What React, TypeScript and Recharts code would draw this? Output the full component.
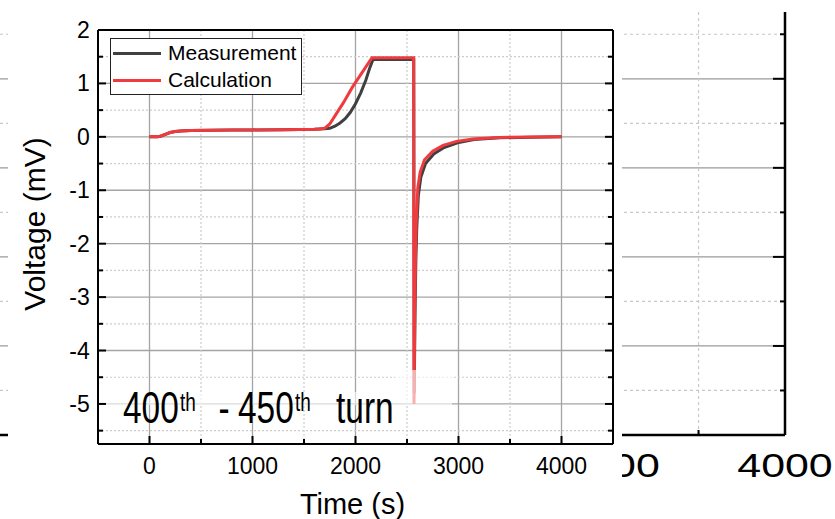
import React from 'react';
import { LineChart, Line, XAxis, YAxis, CartesianGrid, Legend, Label } from 'recharts';

// ---------- data ----------
const measT = [0, 80, 120, 160, 200, 250, 300, 400, 600, 800, 1000, 1300, 1600, 1700, 1750, 1800, 1850, 1900, 1950, 2000, 2050, 2100, 2140, 2170, 2400, 2566, 2570, 2578, 2586, 2595, 2610, 2635, 2680, 2760, 2860, 2990, 3150, 3400, 3700, 4000];
const measV = [0, 0, 0.02, 0.05, 0.08, 0.1, 0.11, 0.12, 0.125, 0.13, 0.13, 0.135, 0.14, 0.15, 0.16, 0.2, 0.26, 0.34, 0.46, 0.62, 0.82, 1.06, 1.3, 1.45, 1.45, 1.45, -4.8, -3.3, -2.3, -1.7, -1.1, -0.75, -0.5, -0.32, -0.2, -0.11, -0.05, -0.018, -0.006, 0];

const calcT = [0, 80, 120, 160, 200, 250, 300, 400, 600, 800, 1000, 1300, 1600, 1650, 1700, 1750, 1810, 1880, 1970, 2070, 2160, 2400, 2564, 2568, 2575, 2582, 2590, 2605, 2628, 2670, 2750, 2850, 2980, 3140, 3400, 3700, 4000];
const calcV = [0, 0, 0.02, 0.05, 0.08, 0.1, 0.11, 0.12, 0.125, 0.13, 0.13, 0.135, 0.14, 0.145, 0.16, 0.24, 0.42, 0.63, 0.93, 1.22, 1.48, 1.48, 1.48, -5.0, -3.4, -2.3, -1.6, -0.95, -0.66, -0.43, -0.27, -0.16, -0.085, -0.04, -0.012, -0.004, 0];

const seriesNames = ['Measurement', 'Calculation'];
const seriesColors = ['#404040', '#f03a3e'];

const xMajor = [0, 1000, 2000, 3000, 4000];
const xMinor = [-500, 500, 1500, 2500, 3500, 4500];
const yMajor = [-5, -4, -3, -2, -1, 0, 1, 2];
const yMinor = [-5.5, -4.5, -3.5, -2.5, -1.5, -0.5, 0.5, 1.5];

// neighbouring (cropped) panel
const bgXMajor = [3000, 4000];
const bgXMinor = [3500];
const bgYMajor = [1, 2, 3, 4];
const bgYMinor = [0.5, 1.5, 2.5, 3.5, 4.5];

const measData = measT.map((t, i) => ({ t, v: measV[i] }));
const calcData = calcT.map((t, i) => ({ t, v: calcV[i] }));

const FONT = '"Liberation Sans", Arial, Helvetica, sans-serif';
const xAll = [...xMajor, ...xMinor].sort((a, b) => a - b);
const yAll = [...yMajor, ...yMinor].sort((a, b) => a - b);
const bgXAll = [...bgXMajor, ...bgXMinor].sort((a, b) => a - b);
const bgYAll = [...bgYMajor, ...bgYMinor].sort((a, b) => a - b);

type Orient = 'bottom' | 'top' | 'left' | 'right';

function makeTick(orient: Orient, majors: number[], showLabel: boolean, majLen = 8, minLen = 5, big = false) {
  return (props: any) => {
    const { x, y, payload } = props;
    const v = payload.value;
    const isMajor = majors.some((m) => Math.abs(m - v) < 1e-9);
    const len = isMajor ? majLen : minLen;
    let x2 = x, y2 = y;
    if (orient === 'bottom') y2 = y - len;
    if (orient === 'top') y2 = y + len;
    if (orient === 'left') x2 = x + len;
    if (orient === 'right') x2 = x - len;
    let label: any = null;
    if (showLabel && isMajor) {
      if (orient === 'bottom') {
        label = big ? (
          <text transform={`translate(${x},${y + 42}) scale(1.3,1)`} textAnchor="middle" fontFamily={FONT} fontSize={33} fill="#000">
            {String(v)}
          </text>
        ) : (
          <text x={x} y={y + 29.5} textAnchor="middle" fontFamily={FONT} fontSize={23} fill="#000">
            {String(v)}
          </text>
        );
      } else if (orient === 'left') {
        label = (
          <text x={x - 8.3} y={y + 8} textAnchor="end" fontFamily={FONT} fontSize={23} fill="#000">
            {String(v)}
          </text>
        );
      }
    }
    return (
      <g>
        <line x1={x} y1={y} x2={x2} y2={y2} stroke="#000" strokeWidth={2} />
        {label}
      </g>
    );
  };
}

const renderLegend = (props: any) => {
  const payload = (props && props.payload) || [];
  const items = seriesNames.map((n, i) => {
    const p = payload.find((e: any) => e.value === n);
    return { label: n, color: p && p.color ? p.color : seriesColors[i] };
  });
  return (
    <div
      style={{
        width: 192,
        height: 57,
        boxSizing: 'border-box',
        border: '1.5px solid #222',
        background: '#fff',
        position: 'relative',
        fontFamily: FONT,
        fontSize: 21,
        color: '#000',
      }}
    >
      {items.map((it, i) => (
        <div
          key={it.label}
          style={{ position: 'absolute', left: 2, top: i === 0 ? 3 : 30, height: 22, display: 'flex', alignItems: 'center', whiteSpace: 'nowrap' }}
        >
          <span style={{ display: 'inline-block', width: 48, height: 3, background: it.color }} />
          <span style={{ marginLeft: 7, lineHeight: '22px' }}>{it.label}</span>
        </div>
      ))}
    </div>
  );
};

function BackgroundPanel() {
  return (
    <LineChart width={835} height={519} margin={{ top: 12, right: 0, bottom: 0, left: 0 }}>
      <CartesianGrid horizontalValues={bgYMajor} vertical={false} stroke="#9a9a9a" strokeWidth={1.3} />
      <CartesianGrid horizontalValues={bgYMinor} verticalValues={bgXMinor} stroke="#c8c8c8" strokeDasharray="3 3" strokeWidth={1.2} />
      <XAxis
        type="number"
        dataKey="t"
        domain={[-540, 4000]}
        allowDataOverflow
        ticks={bgXAll}
        interval={0}
        height={84}
        tickSize={0}
        tickMargin={0}
        tickLine={false}
        axisLine={{ stroke: '#000', strokeWidth: 2.5 }}
        tick={makeTick('bottom', bgXMajor, true, 12, 5, true)}
      />
      <YAxis
        orientation="right"
        type="number"
        domain={[0, 4.75]}
        allowDataOverflow
        ticks={bgYAll}
        interval={0}
        width={50}
        tickSize={0}
        tickMargin={0}
        tickLine={false}
        axisLine={{ stroke: '#000', strokeWidth: 2.5 }}
        tick={makeTick('right', bgYMajor, false, 12, 5)}
      />
    </LineChart>
  );
}

function MainPanel() {
  return (
    <LineChart width={614} height={519} margin={{ top: 0, right: 0, bottom: 0, left: 0 }}>
      <CartesianGrid horizontalValues={yMajor.filter((v) => v < 2)} verticalValues={xMajor} stroke="#a4a4a4" strokeWidth={1.3} />
      <CartesianGrid horizontalValues={yMinor} verticalValues={xMinor.filter((v) => v > -500 && v < 4500)} stroke="#cccccc" strokeDasharray="2 2" strokeWidth={1.2} />
      <XAxis
        type="number"
        dataKey="t"
        domain={[-500, 4500]}
        allowDataOverflow
        ticks={xAll}
        interval={0}
        height={75}
        tickSize={0}
        tickMargin={0}
        tickLine={false}
        axisLine={{ stroke: '#000', strokeWidth: 2 }}
        tick={makeTick('bottom', xMajor, true)}
      >
        <Label
          content={(p: any) => {
            const vb = p.viewBox || { x: 90, y: 444, width: 515, height: 75 };
            return (
              <text x={vb.x + vb.width / 2 - 3} y={vb.y + vb.height - 5} textAnchor="middle" fontFamily={FONT} fontSize={29} fill="#000">
                Time (s)
              </text>
            );
          }}
        />
      </XAxis>
      <XAxis
        xAxisId="t"
        orientation="top"
        type="number"
        domain={[-500, 4500]}
        allowDataOverflow
        ticks={xAll}
        interval={0}
        height={30}
        tickSize={0}
        tickMargin={0}
        tickLine={false}
        axisLine={{ stroke: '#000', strokeWidth: 2 }}
        tick={makeTick('top', xMajor, false)}
      />
      <YAxis
        type="number"
        domain={[-5.75, 2]}
        allowDataOverflow
        ticks={yAll}
        interval={0}
        width={90}
        tickSize={0}
        tickMargin={0}
        tickLine={false}
        axisLine={{ stroke: '#000', strokeWidth: 2 }}
        tick={makeTick('left', yMajor, true)}
      >
        <Label
          content={() => (
            <text
              x={26.5}
              y={224}
              transform="rotate(-90 26.5 224)"
              textAnchor="middle"
              dominantBaseline="central"
              fontFamily={FONT}
              fontSize={30}
              fill="#000"
            >
              Voltage (mV)
            </text>
          )}
        />
      </YAxis>
      <YAxis
        yAxisId="r"
        orientation="right"
        type="number"
        domain={[-5.75, 2]}
        allowDataOverflow
        ticks={yAll}
        interval={0}
        width={9}
        tickSize={0}
        tickMargin={0}
        tickLine={false}
        axisLine={{ stroke: '#000', strokeWidth: 2 }}
        tick={makeTick('right', yMajor, false)}
      />
      <Legend
        layout="vertical"
        align="center"
        verticalAlign="middle"
        content={renderLegend}
        wrapperStyle={{ position: 'absolute', left: 102, top: 38, width: 192, height: 57 }}
      />
      <Line
        data={measData}
        dataKey="v"
        name={seriesNames[0]}
        stroke={seriesColors[0]}
        strokeWidth={3}
        dot={false}
        activeDot={false}
        type="linear"
        isAnimationActive={false}
      />
      <Line
        data={calcData}
        dataKey="v"
        name={seriesNames[1]}
        stroke={seriesColors[1]}
        strokeWidth={3}
        dot={false}
        activeDot={false}
        type="linear"
        isAnimationActive={false}
      />
    </LineChart>
  );
}

export default function App() {
  return (
    <div style={{ position: 'absolute', left: 0, top: 0, width: 835, height: 519, overflow: 'hidden', background: '#fff' }}>
      <div style={{ position: 'absolute', left: 0, top: 0 }}>
        <BackgroundPanel />
      </div>
      <div style={{ position: 'absolute', left: 8, top: 0, width: 614, height: 519, background: '#fff' }}>
        <MainPanel />
      </div>
      <svg width={835} height={519} style={{ position: 'absolute', left: 0, top: 0, pointerEvents: 'none' }}>
        <rect x={106} y={392} width={346} height={13} fill="#fff" fillOpacity={0.6} />
        <rect x={395} y={370} width={57} height={22} fill="#fff" fillOpacity={0.6} />
        <g fontFamily={FONT} fill="#000">
          <text transform="translate(123,423) scale(0.76,1)" fontSize={44}>400</text>
          <text transform="translate(180,411) scale(0.76,1)" fontSize={25}>th</text>
          <text transform="translate(218.6,423) scale(0.76,1)" fontSize={44}>-</text>
          <text transform="translate(238,423) scale(0.76,1)" fontSize={44}>450</text>
          <text transform="translate(295,411) scale(0.76,1)" fontSize={25}>th</text>
          <text transform="translate(336,423) scale(0.76,1)" fontSize={44}>turn</text>
        </g>
      </svg>
    </div>
  );
}
